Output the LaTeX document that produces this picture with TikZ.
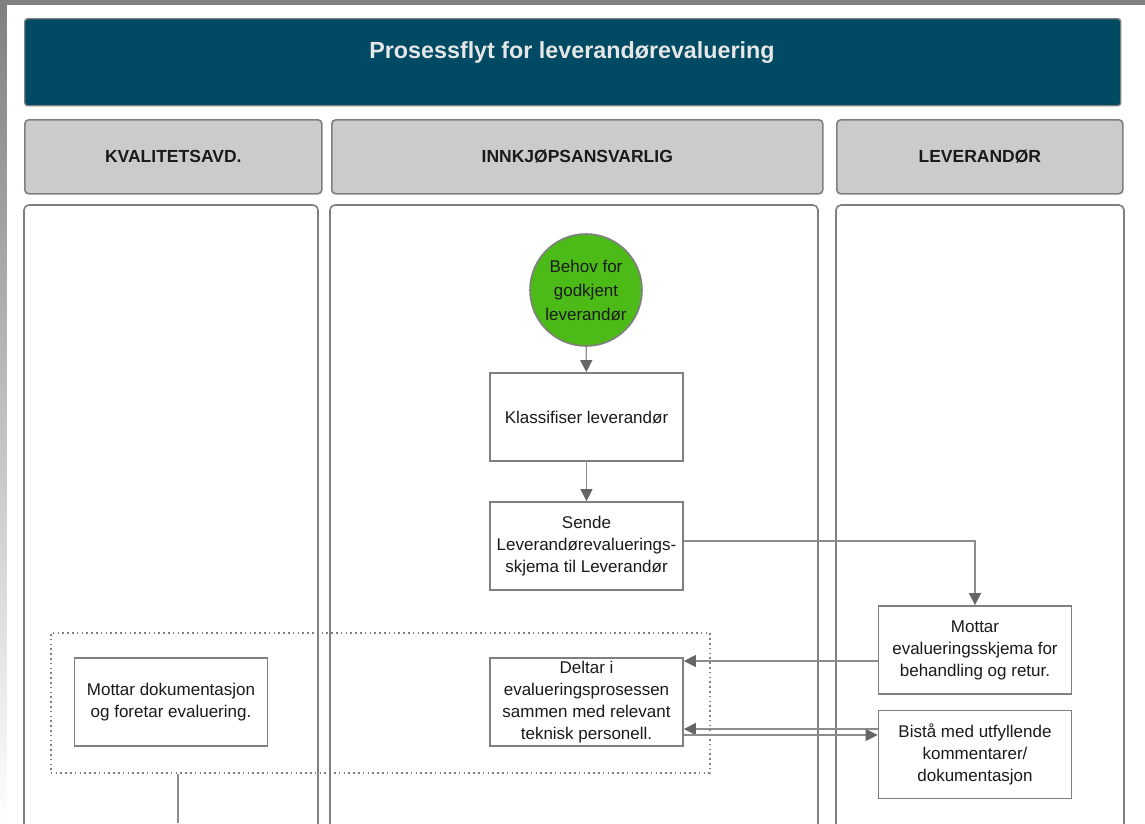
\documentclass[tikz,border=0pt]{standalone}
\usepackage{fontspec}
\setmainfont{Liberation Sans}
\usetikzlibrary{arrows.meta,calc}
\definecolor{titlebg}{HTML}{004A63}
\definecolor{titlefg}{HTML}{E6E6E6}
\definecolor{headbg}{HTML}{CCCBCA}
\definecolor{edge}{HTML}{7F7F7F}
\definecolor{conn}{HTML}{8C8C8C}
\definecolor{tip}{HTML}{666666}
\definecolor{startgreen}{HTML}{4CBB17}
\definecolor{txt}{HTML}{1A1A1A}
\definecolor{shade}{HTML}{F2F2F2}
\tikzset{
  lanehead/.style={draw=edge, line width=1.6pt, fill=headbg, rounded corners=4pt, anchor=north west, inner sep=0pt,
    font=\fontsize{17.5}{20}\selectfont\bfseries, text=txt},
  lanebody/.style={draw=edge, line width=1.6pt, fill=white, rounded corners=5pt},
  stepbox/.style={draw=edge, line width=1.8pt, fill=white, minimum width=193pt, minimum height=88pt,
    inner sep=1pt, align=center, text=txt, font=\fontsize{17}{22}\selectfont},
  startnode/.style={circle, draw=edge, line width=1.6pt, fill=startgreen, minimum size=112pt, inner sep=0pt,
    align=center, text=txt, font=\fontsize{17}{24}\selectfont},
  arr/.style={draw=conn, line width=1.4pt, -{Triangle[length=12pt,width=12pt,fill=tip,color=tip]}},
  plain/.style={draw=conn, line width=1.4pt},
  group/.style={draw=edge, line width=1.6pt, dotted, dash pattern=on 1.6pt off 3.2pt},
}
\begin{document}
\begin{tikzpicture}[x=1pt,y=1pt]
\useasboundingbox (0,0) rectangle (1145,-823);
\clip (0,0) rectangle (1145,-823);
% page shade
\fill[shade] (0,0) rectangle (1145,-823);
\fill[white] (7,-5) rectangle (1145,-823);
% title
\node[draw=edge, line width=1.4pt, fill=titlebg, rounded corners=3pt, minimum width=1096pt, minimum height=87pt,
  anchor=north west, inner sep=0pt] (title) at (24,-18) {};
\node[text=titlefg, font=\fontsize{23.3}{28}\selectfont\bfseries] (titletext) at (572,-53) {Prosessflyt for leverandørevaluering};
% lane headers
\node[lanehead, minimum width=297pt, minimum height=74pt] (h1) at (24,-119) {KVALITETSAVD.};
\node[lanehead, minimum width=491pt, minimum height=74pt] (h2) at (331,-119) {INNKJØPSANSVARLIG};
\node[lanehead, minimum width=286pt, minimum height=74pt] (h3) at (836,-119) {LEVERANDØR};
% lane bodies
\draw[lanebody] (24,-850) -- (24,-205) -- (318,-205) -- (318,-850);
\draw[lanebody] (330,-850) -- (330,-205) -- (818,-205) -- (818,-850);
\draw[lanebody] (836,-850) -- (836,-205) -- (1124,-205) -- (1124,-850);
% group
\node[group, minimum width=659pt, minimum height=140pt, anchor=north west, inner sep=0pt] (grp) at (50,-632) {};
% nodes
\node[startnode] (start) at (586,-290) {Behov for\\godkjent\\leverandør};
\node[stepbox] (klass) at (586.5,-417) {Klassifiser leverandør};
\node[stepbox] (sende) at (586.5,-546) {Sende\\Leverandørevaluerings-\\skjema til Leverandør};
\node[stepbox] (motta) at (975,-650) {Mottar\\evalueringsskjema for\\behandling og retur.};
\node[stepbox] (bista) at (975,-754.5) {Bistå med utfyllende\\kommentarer/\\dokumentasjon};
\node[stepbox] (deltar) at (586.5,-702) {Deltar i\\evalueringsprosessen\\sammen med relevant\\teknisk personell.};
\node[stepbox] (mdok) at (171,-702) {Mottar dokumentasjon\\og foretar evaluering.};
\coordinate (down) at (178,-823);
% connectors
\draw[arr] (start) -- (klass);
\draw[arr] (klass) -- (sende);
\draw[arr] ([yshift=5pt]sende.east) -| (motta.north);
\draw[arr] ([yshift=-11pt]motta.west) -- ([yshift=-11pt]motta.west -| deltar.east);
\draw[arr] ([yshift=25.5pt]bista.west) -- ([yshift=25.5pt]bista.west -| deltar.east);
\draw[arr] ([yshift=-33pt]deltar.east) -- ([yshift=-33pt]deltar.east -| bista.west);
\draw[plain] (grp.south -| down) -- (down);
\end{tikzpicture}
\end{document}
